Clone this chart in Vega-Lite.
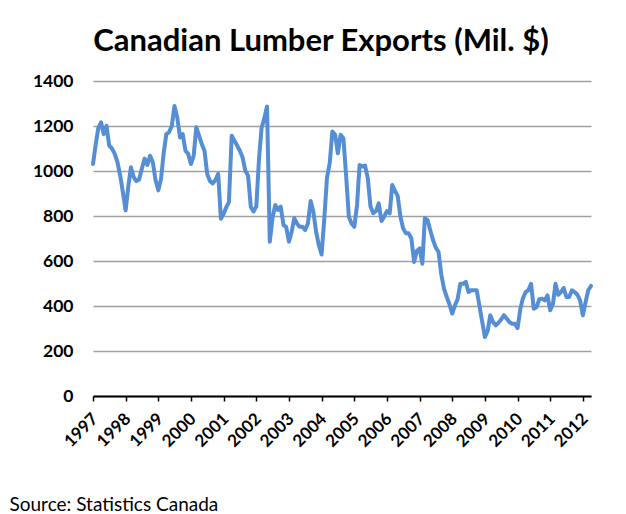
{
  "$schema": "https://vega.github.io/schema/vega-lite/v6.json",
  "autosize": "none",
  "width": 498,
  "height": 315,
  "padding": {"left": 93, "top": 81, "right": 35, "bottom": 118},
  "background": "white",
  "title": {
    "text": "Canadian Lumber Exports (Mil. $)",
    "font": "Lato",
    "fontSize": 31,
    "fontWeight": "bold",
    "color": "#000000",
    "anchor": "middle",
    "dx": -21,
    "baseline": "alphabetic",
    "offset": -10
  },
  "data": {
    "values": [
      {"d":"1997-01-01","v":1031},{"d":"1997-02-01","v":1120},{"d":"1997-03-01","v":1190},{"d":"1997-04-01","v":1216},{"d":"1997-05-01","v":1164},{"d":"1997-06-01","v":1201},{"d":"1997-07-01","v":1113},{"d":"1997-08-01","v":1100},{"d":"1997-09-01","v":1076},{"d":"1997-10-01","v":1040},{"d":"1997-11-01","v":980},{"d":"1997-12-01","v":906},
      {"d":"1998-01-01","v":825},{"d":"1998-02-01","v":936},{"d":"1998-03-01","v":1017},{"d":"1998-04-01","v":973},{"d":"1998-05-01","v":955},{"d":"1998-06-01","v":962},{"d":"1998-07-01","v":1010},{"d":"1998-08-01","v":1055},{"d":"1998-09-01","v":1027},{"d":"1998-10-01","v":1068},{"d":"1998-11-01","v":1039},{"d":"1998-12-01","v":960},
      {"d":"1999-01-01","v":914},{"d":"1999-02-01","v":965},{"d":"1999-03-01","v":1075},{"d":"1999-04-01","v":1164},{"d":"1999-05-01","v":1172},{"d":"1999-06-01","v":1200},{"d":"1999-07-01","v":1289},{"d":"1999-08-01","v":1238},{"d":"1999-09-01","v":1149},{"d":"1999-10-01","v":1164},{"d":"1999-11-01","v":1090},{"d":"1999-12-01","v":1076},
      {"d":"2000-01-01","v":1031},{"d":"2000-02-01","v":1068},{"d":"2000-03-01","v":1194},{"d":"2000-04-01","v":1157},{"d":"2000-05-01","v":1120},{"d":"2000-06-01","v":1090},{"d":"2000-07-01","v":987},{"d":"2000-08-01","v":955},{"d":"2000-09-01","v":945},{"d":"2000-10-01","v":960},{"d":"2000-11-01","v":987},{"d":"2000-12-01","v":788},
      {"d":"2001-01-01","v":810},{"d":"2001-02-01","v":840},{"d":"2001-03-01","v":862},{"d":"2001-04-01","v":1157},{"d":"2001-05-01","v":1135},{"d":"2001-06-01","v":1113},{"d":"2001-07-01","v":1090},{"d":"2001-08-01","v":1060},{"d":"2001-09-01","v":1000},{"d":"2001-10-01","v":980},{"d":"2001-11-01","v":840},{"d":"2001-12-01","v":820},
      {"d":"2002-01-01","v":842},{"d":"2002-02-01","v":1057},{"d":"2002-03-01","v":1191},{"d":"2002-04-01","v":1235},{"d":"2002-05-01","v":1287},{"d":"2002-06-01","v":686},{"d":"2002-07-01","v":790},{"d":"2002-08-01","v":849},{"d":"2002-09-01","v":827},{"d":"2002-10-01","v":842},{"d":"2002-11-01","v":760},{"d":"2002-12-01","v":752},
      {"d":"2003-01-01","v":686},{"d":"2003-02-01","v":730},{"d":"2003-03-01","v":790},{"d":"2003-04-01","v":767},{"d":"2003-05-01","v":752},{"d":"2003-06-01","v":752},{"d":"2003-07-01","v":738},{"d":"2003-08-01","v":767},{"d":"2003-09-01","v":867},{"d":"2003-10-01","v":819},{"d":"2003-11-01","v":730},{"d":"2003-12-01","v":671},
      {"d":"2004-01-01","v":629},{"d":"2004-02-01","v":790},{"d":"2004-03-01","v":968},{"d":"2004-04-01","v":1035},{"d":"2004-05-01","v":1176},{"d":"2004-06-01","v":1161},{"d":"2004-07-01","v":1079},{"d":"2004-08-01","v":1161},{"d":"2004-09-01","v":1146},{"d":"2004-10-01","v":983},{"d":"2004-11-01","v":797},{"d":"2004-12-01","v":767},
      {"d":"2005-01-01","v":752},{"d":"2005-02-01","v":849},{"d":"2005-03-01","v":1027},{"d":"2005-04-01","v":1020},{"d":"2005-05-01","v":1024},{"d":"2005-06-01","v":968},{"d":"2005-07-01","v":842},{"d":"2005-08-01","v":812},{"d":"2005-09-01","v":822},{"d":"2005-10-01","v":856},{"d":"2005-11-01","v":778},{"d":"2005-12-01","v":797},
      {"d":"2006-01-01","v":822},{"d":"2006-02-01","v":812},{"d":"2006-03-01","v":938},{"d":"2006-04-01","v":911},{"d":"2006-05-01","v":890},{"d":"2006-06-01","v":797},{"d":"2006-07-01","v":745},{"d":"2006-08-01","v":723},{"d":"2006-09-01","v":723},{"d":"2006-10-01","v":700},{"d":"2006-11-01","v":596},{"d":"2006-12-01","v":645},
      {"d":"2007-01-01","v":656},{"d":"2007-02-01","v":588},{"d":"2007-03-01","v":791},{"d":"2007-04-01","v":781},{"d":"2007-05-01","v":736},{"d":"2007-06-01","v":692},{"d":"2007-07-01","v":660},{"d":"2007-08-01","v":640},{"d":"2007-09-01","v":540},{"d":"2007-10-01","v":477},{"d":"2007-11-01","v":440},{"d":"2007-12-01","v":408},
      {"d":"2008-01-01","v":366},{"d":"2008-02-01","v":403},{"d":"2008-03-01","v":430},{"d":"2008-04-01","v":499},{"d":"2008-05-01","v":499},{"d":"2008-06-01","v":507},{"d":"2008-07-01","v":462},{"d":"2008-08-01","v":470},{"d":"2008-09-01","v":470},{"d":"2008-10-01","v":470},{"d":"2008-11-01","v":400},{"d":"2008-12-01","v":330},
      {"d":"2009-01-01","v":262},{"d":"2009-02-01","v":290},{"d":"2009-03-01","v":359},{"d":"2009-04-01","v":329},{"d":"2009-05-01","v":314},{"d":"2009-06-01","v":325},{"d":"2009-07-01","v":340},{"d":"2009-08-01","v":359},{"d":"2009-09-01","v":344},{"d":"2009-10-01","v":329},{"d":"2009-11-01","v":321},{"d":"2009-12-01","v":321},
      {"d":"2010-01-01","v":302},{"d":"2010-02-01","v":388},{"d":"2010-03-01","v":433},{"d":"2010-04-01","v":462},{"d":"2010-05-01","v":470},{"d":"2010-06-01","v":499},{"d":"2010-07-01","v":388},{"d":"2010-08-01","v":395},{"d":"2010-09-01","v":430},{"d":"2010-10-01","v":433},{"d":"2010-11-01","v":425},{"d":"2010-12-01","v":447},
      {"d":"2011-01-01","v":381},{"d":"2011-02-01","v":410},{"d":"2011-03-01","v":499},{"d":"2011-04-01","v":450},{"d":"2011-05-01","v":462},{"d":"2011-06-01","v":480},{"d":"2011-07-01","v":440},{"d":"2011-08-01","v":440},{"d":"2011-09-01","v":470},{"d":"2011-10-01","v":462},{"d":"2011-11-01","v":450},{"d":"2011-12-01","v":425},
      {"d":"2012-01-01","v":359},{"d":"2012-02-01","v":418},{"d":"2012-03-01","v":470},{"d":"2012-04-01","v":489}
    ]
  },
  "mark": {"type": "line", "color": "#558ed5", "strokeWidth": 4, "strokeJoin": "round", "strokeCap": "round", "clip": false},
  "encoding": {
    "x": {
      "field": "d",
      "type": "temporal",
      "scale": {"type": "utc", "nice": false},
      "axis": {
        "title": "Source: Statistics Canada",
        "titleFont": "Lato",
        "titleFontSize": 19,
        "titleFontWeight": "normal",
        "titleColor": "#000000",
        "titleAnchor": "start",
        "titleAlign": "left",
        "titleBaseline": "alphabetic",
        "titleX": -84,
        "titleY": 114,
        "format": "%Y",
        "formatType": "utc",
        "tickCount": {"interval": "year", "step": 1},
        "grid": false,
        "domainColor": "#000000",
        "domainWidth": 2,
        "tickColor": "#000000",
        "tickWidth": 1.5,
        "tickSize": 5,
        "labelFont": "Lato",
        "labelFontSize": 17,
        "labelFontWeight": "bold",
        "labelColor": "#000000",
        "labelAngle": -45,
        "labelAlign": "right",
        "labelBaseline": "middle",
        "labelPadding": 15,
        "labelOffset": 2,
        "labelOverlap": false,
        "labelFlush": false
      }
    },
    "y": {
      "field": "v",
      "type": "quantitative",
      "scale": {"domain": [0, 1400], "nice": false, "zero": true},
      "axis": {
        "title": null,
        "values": [0, 200, 400, 600, 800, 1000, 1200, 1400],
        "domain": false,
        "ticks": false,
        "tickSize": 0,
        "grid": true,
        "gridColor": "#a0a0a0",
        "gridWidth": 1.5,
        "labelFont": "Lato",
        "labelFontSize": 17.5,
        "labelFontWeight": "bold",
        "labelColor": "#000000",
        "labelPadding": 20,
        "format": "d"
      }
    }
  },
  "config": {
    "view": {"stroke": null}
  }
}
